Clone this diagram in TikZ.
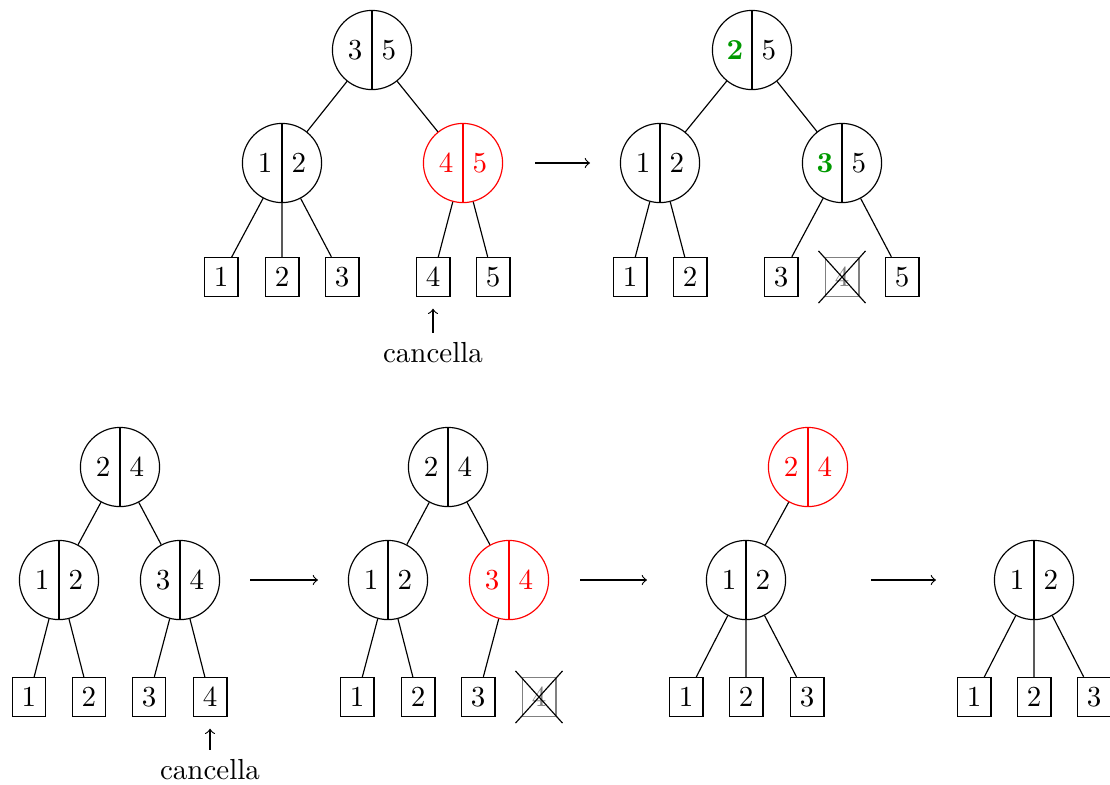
\documentclass[tikz,border=0pt]{standalone}
\usetikzlibrary{calc}
\definecolor{mygreen}{rgb}{0,0.6,0}
\newcommand\pairtxt[2]{\makebox[11.7pt]{#1}\makebox[11.7pt]{#2}}
\newcommand\gb[1]{\textcolor{mygreen}{\textbf{#1}}}
\tikzset{
  pair/.style={circle, draw, minimum size=27.3pt, inner sep=0pt,
    path picture={\draw (path picture bounding box.north) -- (path picture bounding box.south);}},
  pairred/.style={circle, draw=red, text=red, minimum size=27.3pt, inner sep=0pt,
    path picture={\draw[red] (path picture bounding box.north) -- (path picture bounding box.south);}},
  leaf/.style={rectangle, draw},
  deadleaf/.style={rectangle, draw=gray, text=gray},
  step arrow/.style={->},
}
\begin{document}
\begin{tikzpicture}[x=0.3448pt, y=-0.3448pt]
\useasboundingbox (0,0) rectangle (1110,784);
% ---------- top left
\node[pair] (a) at (372,50) {\pairtxt{3}{5}};
\node[pair] (a1) at (282,163) {\pairtxt{1}{2}};
\node[pairred] (a2) at (463,163) {\pairtxt{4}{5}};
\node[leaf] (al1) at (221,277) {1};
\node[leaf] (al2) at (282,277) {2};
\node[leaf] (al3) at (342,277) {3};
\node[leaf] (al4) at (433,277) {4};
\node[leaf] (al5) at (493,277) {5};
\draw (a) -- (a1) (a) -- (a2) (a1) -- (al1) (a1) -- (al2) (a1) -- (al3) (a2) -- (al4) (a2) -- (al5);
\node (ca) at (433,353) {cancella};
\draw[->, shorten >=4pt] (ca.north) -- (al4.south);
\coordinate (ar1s) at (535,163);
\coordinate (ar1e) at (590,163);
\draw[step arrow] (ar1s) -- (ar1e);
% ---------- top right
\node[pair] (b) at (752,50) {\pairtxt{\gb{2}}{5}};
\node[pair] (b1) at (660,163) {\pairtxt{1}{2}};
\node[pair] (b2) at (842,163) {\pairtxt{\gb{3}}{5}};
\node[leaf] (bl1) at (630,277) {1};
\node[leaf] (bl2) at (690,277) {2};
\node[leaf] (bl3) at (781,277) {3};
\node[deadleaf] (bl4) at (842,277) {4};
\node[leaf] (bl5) at (902,277) {5};
\draw (b) -- (b1) (b) -- (b2) (b1) -- (bl1) (b1) -- (bl2) (b2) -- (bl3) (b2) -- (bl5);
\draw ($(bl4.north west)+(-6,-6)$) -- ($(bl4.south east)+(6,6)$);
\draw ($(bl4.north east)+(6,-6)$) -- ($(bl4.south west)+(-6,6)$);
% ---------- bottom 1
\node[pair] (c) at (120,467) {\pairtxt{2}{4}};
\node[pair] (c1) at (59,580) {\pairtxt{1}{2}};
\node[pair] (c2) at (180,580) {\pairtxt{3}{4}};
\node[leaf] (cl1) at (29,697) {1};
\node[leaf] (cl2) at (89,697) {2};
\node[leaf] (cl3) at (149,697) {3};
\node[leaf] (cl4) at (210,697) {4};
\draw (c) -- (c1) (c) -- (c2) (c1) -- (cl1) (c1) -- (cl2) (c2) -- (cl3) (c2) -- (cl4);
\node (cc) at (210,770) {cancella};
\draw[->, shorten >=4pt] (cc.north) -- (cl4.south);
\coordinate (ar2s) at (250,580);
\coordinate (ar2e) at (318,580);
\draw[step arrow] (ar2s) -- (ar2e);
% ---------- bottom 2
\node[pair] (d) at (448,467) {\pairtxt{2}{4}};
\node[pair] (d1) at (388,580) {\pairtxt{1}{2}};
\node[pairred] (d2) at (509,580) {\pairtxt{3}{4}};
\node[leaf] (dl1) at (357,697) {1};
\node[leaf] (dl2) at (418,697) {2};
\node[leaf] (dl3) at (478,697) {3};
\node[deadleaf] (dl4) at (539,697) {4};
\draw (d) -- (d1) (d) -- (d2) (d1) -- (dl1) (d1) -- (dl2) (d2) -- (dl3);
\draw ($(dl4.north west)+(-6,-6)$) -- ($(dl4.south east)+(6,6)$);
\draw ($(dl4.north east)+(6,-6)$) -- ($(dl4.south west)+(-6,6)$);
\coordinate (ar3s) at (580,580);
\coordinate (ar3e) at (647,580);
\draw[step arrow] (ar3s) -- (ar3e);
% ---------- bottom 3
\node[pairred] (e) at (808,467) {\pairtxt{2}{4}};
\node[pair] (e1) at (746,580) {\pairtxt{1}{2}};
\node[leaf] (el1) at (686,697) {1};
\node[leaf] (el2) at (746,697) {2};
\node[leaf] (el3) at (807,697) {3};
\draw (e) -- (e1) (e1) -- (el1) (e1) -- (el2) (e1) -- (el3);
\coordinate (ar4s) at (871,580);
\coordinate (ar4e) at (936,580);
\draw[step arrow] (ar4s) -- (ar4e);
% ---------- bottom 4
\node[pair] (f) at (1034,580) {\pairtxt{1}{2}};
\node[leaf] (fl1) at (974,697) {1};
\node[leaf] (fl2) at (1034,697) {2};
\node[leaf] (fl3) at (1094,697) {3};
\draw (f) -- (fl1) (f) -- (fl2) (f) -- (fl3);
\end{tikzpicture}
\end{document}
